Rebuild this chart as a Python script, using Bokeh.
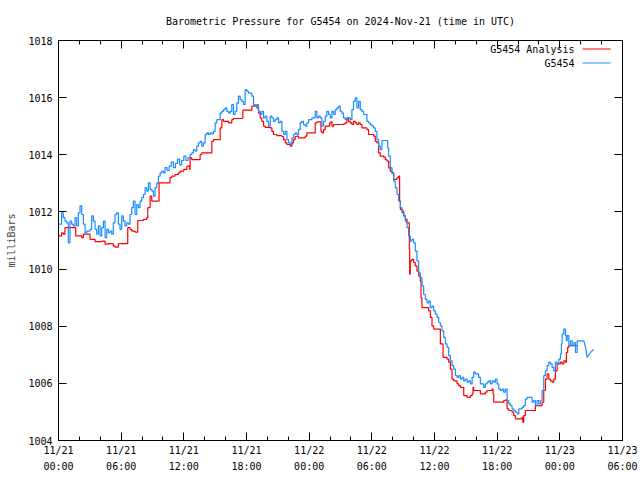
import pandas as pd
from bokeh.plotting import figure
from bokeh.models import (Range1d, DatetimeTickFormatter, FixedTicker, DatetimeAxis, LinearAxis,
                          CustomJSTickFormatter, Label, Arrow)
from bokeh.embed import file_html
from bokeh.resources import INLINE

# ---------------- data (hours since 2024-11-21 00:00 UTC, pressure in mbar) ----------------
START = "2024-11-21 00:00"

analysis_hours = [
    0.00, 0.30, 0.46, 0.62, 1.65, 2.22, 2.38, 3.02, 3.50, 4.14,
    4.46, 4.78, 5.25, 5.41, 5.73, 6.63, 6.85, 7.01, 7.33, 7.59,
    8.13, 8.45, 8.55, 8.77, 8.93, 9.63, 10.68, 10.84, 11.16, 11.48,
    11.64, 12.00, 12.30, 12.55, 12.60, 12.76, 13.56, 13.72, 14.68, 14.84,
    15.48, 15.64, 15.80, 16.28, 16.59, 16.75, 17.65, 18.51, 18.83, 18.99,
    19.15, 19.31, 19.47, 19.63, 19.79, 20.27, 20.43, 20.59, 20.91, 21.39,
    21.55, 21.71, 21.87, 22.19, 22.35, 22.50, 22.66, 22.82, 22.98, 23.62,
    23.78, 24.58, 24.74, 25.13, 25.22, 25.38, 25.54, 25.96, 26.08, 26.18,
    26.34, 27.29, 27.45, 27.61, 27.77, 27.93, 28.09, 28.25, 28.41, 28.57,
    28.73, 28.89, 29.05, 29.53, 29.69, 30.17, 30.33, 30.49, 30.65, 30.81,
    31.13, 31.29, 31.45, 31.61, 31.77, 31.93, 32.09, 32.41, 32.57, 32.66,
    32.73, 32.89, 33.05, 33.21, 33.37, 33.59, 33.62, 33.68, 33.84, 34.00,
    34.16, 34.32, 34.48, 34.64, 34.71, 34.80, 35.28, 35.44, 35.60, 35.76,
    35.92, 36.24, 36.56, 36.72, 36.82, 37.20, 37.36, 37.52, 37.68, 37.84,
    38.16, 38.32, 38.48, 38.80, 39.12, 39.44, 39.60, 39.69, 39.75, 40.39,
    40.87, 41.03, 41.51, 41.61, 41.67, 42.63, 42.79, 42.95, 43.11, 43.43,
    43.59, 43.75, 44.38, 44.45, 44.54, 44.70, 45.66, 46.30, 46.46, 46.62,
    46.78, 46.94, 47.10, 47.26, 47.42, 47.58, 47.74, 48.06, 48.22, 48.38,
    48.54, 48.63, 48.75, 48.86, 49.66,
]
analysis_mbar = [
    1011.16, 1011.27, 1011.22, 1011.45, 1011.16, 1011.10, 1011.22, 1011.04, 1010.96, 1010.98,
    1010.87, 1010.89, 1010.81, 1010.77, 1010.89, 1011.45, 1011.39, 1011.33, 1011.29, 1011.70,
    1011.74, 1011.80, 1012.15, 1012.55, 1012.38, 1013.02, 1013.20, 1013.25, 1013.31, 1013.37,
    1013.43, 1013.49, 1013.60, 1013.49, 1013.89, 1013.83, 1014.01, 1014.07, 1014.47, 1014.53,
    1014.94, 1015.23, 1015.17, 1015.12, 1015.23, 1015.27, 1015.56, 1015.70, 1015.73, 1015.64,
    1015.46, 1015.29, 1015.17, 1015.00, 1014.96, 1014.94, 1014.82, 1014.71, 1014.67, 1014.64,
    1014.53, 1014.42, 1014.36, 1014.30, 1014.42, 1014.53, 1014.64, 1014.65, 1014.59, 1014.65,
    1014.77, 1015.12, 1015.15, 1014.82, 1014.77, 1014.88, 1015.00, 1015.12, 1015.15, 1015.00,
    1015.06, 1015.08, 1015.12, 1015.29, 1015.17, 1015.12, 1015.06, 1015.17, 1015.12, 1015.06,
    1015.12, 1015.06, 1014.94, 1014.88, 1014.71, 1014.65, 1014.47, 1014.42, 1014.07, 1013.95,
    1013.92, 1013.83, 1013.78, 1013.54, 1013.43, 1013.37, 1013.14, 1013.20, 1013.25, 1012.38,
    1012.09, 1012.03, 1011.86, 1011.74, 1011.62, 1010.70, 1009.82, 1010.29, 1010.34, 1010.23,
    1010.11, 1009.93, 1009.76, 1009.58, 1008.99, 1008.65, 1008.65, 1008.54, 1008.31, 1008.01,
    1007.90, 1007.90, 1007.38, 1007.38, 1006.91, 1006.85, 1006.74, 1006.50, 1006.15, 1006.09,
    1005.98, 1005.92, 1005.86, 1005.57, 1005.51, 1005.57, 1005.63, 1005.86, 1005.75, 1005.63,
    1005.69, 1005.75, 1005.80, 1005.63, 1005.34, 1005.40, 1005.42, 1005.11, 1005.05, 1004.99,
    1004.87, 1004.76, 1004.81, 1004.64, 1004.87, 1005.05, 1005.22, 1005.34, 1005.75, 1006.15,
    1006.33, 1006.15, 1006.09, 1006.04, 1006.15, 1006.44, 1006.68, 1006.74, 1006.68, 1006.79,
    1006.74, 1007.08, 1007.26, 1007.32, 1007.32,
]

station_hours = [
    0.00, 0.30, 0.46, 0.62, 0.78, 0.94, 1.10, 1.26, 1.42, 1.58,
    1.74, 1.90, 2.06, 2.22, 2.38, 2.54, 2.70, 2.86, 3.02, 3.18,
    3.34, 3.50, 3.66, 3.82, 3.98, 4.14, 4.30, 4.46, 4.62, 4.78,
    4.94, 5.10, 5.25, 5.41, 5.57, 5.73, 5.89, 6.05, 6.21, 6.37,
    6.53, 6.69, 6.85, 7.01, 7.17, 7.33, 7.49, 7.65, 7.81, 7.97,
    8.13, 8.29, 8.45, 8.61, 8.77, 8.93, 9.09, 9.25, 9.41, 9.57,
    9.73, 9.89, 10.05, 10.20, 10.40, 10.60, 10.80, 11.00, 11.20, 11.40,
    11.60, 11.80, 12.00, 12.20, 12.40, 12.60, 12.76, 12.92, 13.08, 13.24,
    13.40, 13.56, 13.72, 13.88, 14.04, 14.20, 14.36, 14.52, 14.68, 14.84,
    15.00, 15.16, 15.32, 15.48, 15.64, 15.80, 15.96, 16.12, 16.28, 16.44,
    16.59, 16.75, 16.91, 17.07, 17.23, 17.39, 17.55, 17.71, 17.87, 18.03,
    18.19, 18.35, 18.51, 18.67, 18.83, 18.99, 19.15, 19.31, 19.47, 19.63,
    19.79, 19.95, 20.11, 20.27, 20.43, 20.59, 20.75, 20.91, 21.07, 21.23,
    21.39, 21.55, 21.71, 21.87, 22.03, 22.19, 22.35, 22.50, 22.66, 22.82,
    22.98, 23.14, 23.30, 23.46, 23.62, 23.78, 23.94, 24.10, 24.26, 24.42,
    24.58, 24.74, 24.90, 25.06, 25.22, 25.38, 25.54, 25.70, 25.86, 26.02,
    26.18, 26.34, 26.50, 26.66, 26.82, 26.98, 27.13, 27.29, 27.45, 27.61,
    27.77, 27.93, 28.09, 28.25, 28.41, 28.57, 28.73, 28.89, 29.05, 29.21,
    29.37, 29.53, 29.69, 29.85, 30.01, 30.17, 30.33, 30.49, 30.65, 30.81,
    30.97, 31.45, 31.52, 31.61, 31.77, 31.93, 32.09, 32.25, 32.41, 32.57,
    32.73, 32.89, 33.05, 33.21, 33.37, 33.52, 33.68, 33.84, 34.00, 34.16,
    34.32, 34.48, 34.64, 34.80, 34.96, 35.12, 35.28, 35.44, 35.60, 35.76,
    35.92, 36.08, 36.24, 36.40, 36.56, 36.72, 36.88, 37.04, 37.20, 37.36,
    37.52, 37.68, 37.84, 38.00, 38.16, 38.32, 38.48, 38.64, 38.80, 38.96,
    39.12, 39.28, 39.44, 39.60, 39.75, 39.91, 40.07, 40.23, 40.39, 40.55,
    40.71, 40.87, 41.03, 41.19, 41.35, 41.51, 41.67, 41.83, 41.99, 42.15,
    42.31, 42.47, 42.63, 42.79, 42.95, 43.11, 43.27, 43.43, 43.59, 43.75,
    43.91, 44.07, 44.22, 44.38, 44.54, 44.70, 44.86, 45.18, 45.34, 45.50,
    45.66, 45.82, 45.98, 46.14, 46.30, 46.46, 46.62, 46.78, 46.94, 47.10,
    47.26, 47.42, 47.58, 47.74, 47.90, 48.06, 48.15, 48.22, 48.38, 48.54,
    48.63, 48.70, 48.86, 49.02, 49.18, 49.34, 49.50, 49.66, 50.30, 50.46,
    50.62, 50.93, 51.25,
]
station_mbar = [
    1011.57, 1011.97, 1011.80, 1011.68, 1011.62, 1010.92, 1011.68, 1011.57, 1011.51, 1011.80,
    1011.51, 1011.97, 1012.21, 1011.91, 1011.57, 1011.27, 1011.33, 1011.33, 1011.39, 1011.86,
    1011.68, 1011.39, 1011.22, 1011.51, 1011.16, 1011.45, 1011.68, 1011.10, 1011.39, 1011.27,
    1011.33, 1011.22, 1011.62, 1011.91, 1011.97, 1011.57, 1011.39, 1011.86, 1011.68, 1011.51,
    1011.62, 1011.57, 1011.91, 1012.15, 1012.38, 1011.91, 1012.26, 1012.15, 1012.38, 1012.50,
    1012.61, 1012.85, 1012.73, 1013.02, 1012.79, 1012.73, 1012.55, 1012.85, 1013.02, 1013.25,
    1013.37, 1013.43, 1013.37, 1013.55, 1013.45, 1013.60, 1013.75, 1013.55, 1013.70, 1013.85,
    1013.65, 1013.80, 1013.95, 1013.80, 1013.90, 1014.01, 1014.07, 1014.18, 1014.13, 1014.30,
    1014.42, 1014.47, 1014.30, 1014.42, 1014.71, 1014.77, 1014.71, 1014.77, 1014.73, 1014.82,
    1015.12, 1015.23, 1015.23, 1015.46, 1015.52, 1015.58, 1015.64, 1015.52, 1015.46, 1015.52,
    1015.76, 1015.41, 1015.52, 1015.81, 1016.05, 1015.93, 1015.87, 1015.76, 1016.28, 1016.22,
    1016.16, 1016.16, 1016.05, 1015.76, 1015.70, 1015.76, 1015.52, 1015.41, 1015.52, 1015.29,
    1015.35, 1015.17, 1015.00, 1015.35, 1015.29, 1015.17, 1015.23, 1015.29, 1015.12, 1015.17,
    1014.82, 1014.71, 1014.82, 1014.53, 1014.42, 1014.36, 1014.59, 1014.71, 1014.77, 1014.71,
    1014.88, 1015.12, 1015.17, 1015.06, 1015.00, 1015.12, 1015.23, 1015.23, 1015.29, 1015.29,
    1015.52, 1015.29, 1015.35, 1015.29, 1015.00, 1015.17, 1015.35, 1015.52, 1015.41, 1015.29,
    1015.52, 1015.41, 1015.58, 1015.64, 1015.70, 1015.52, 1015.46, 1015.29, 1015.23, 1015.29,
    1015.29, 1015.23, 1015.58, 1015.87, 1015.99, 1015.64, 1015.87, 1015.58, 1015.52, 1015.41,
    1015.41, 1015.17, 1015.12, 1015.06, 1015.00, 1014.94, 1014.82, 1014.53, 1014.30, 1014.18,
    1014.50, 1014.50, 1014.24, 1013.95, 1013.55, 1013.35, 1013.08, 1012.85, 1012.61, 1012.38,
    1012.15, 1011.97, 1011.86, 1011.68, 1011.45, 1011.16, 1010.98, 1011.04, 1010.92, 1010.63,
    1010.29, 1009.87, 1009.70, 1009.41, 1009.11, 1008.94, 1008.82, 1008.88, 1008.65, 1008.70,
    1008.54, 1008.42, 1008.31, 1008.13, 1008.01, 1007.84, 1007.61, 1007.38, 1007.26, 1006.97,
    1006.79, 1006.62, 1006.50, 1006.27, 1006.21, 1006.27, 1006.15, 1006.21, 1006.09, 1006.15,
    1006.04, 1006.09, 1005.98, 1006.21, 1006.39, 1006.33, 1006.33, 1006.21, 1005.98, 1005.98,
    1005.86, 1005.98, 1006.04, 1006.09, 1005.98, 1006.09, 1006.04, 1006.15, 1005.98, 1005.80,
    1005.75, 1005.80, 1005.69, 1005.80, 1005.40, 1005.28, 1005.22, 1005.11, 1005.05, 1004.99,
    1004.93, 1005.11, 1005.11, 1005.16, 1005.22, 1005.45, 1005.51, 1005.51, 1005.34, 1005.40,
    1005.22, 1005.40, 1005.28, 1005.40, 1005.75, 1006.27, 1006.44, 1006.62, 1006.74, 1006.68,
    1006.56, 1006.44, 1006.74, 1006.68, 1006.85, 1007.03, 1007.38, 1007.72, 1007.90, 1007.67,
    1007.49, 1007.67, 1007.32, 1007.49, 1007.32, 1007.43, 1007.08, 1007.49, 1007.49, 1007.26,
    1006.91, 1007.08, 1007.20,
]
# the last few station reports are sparse and are joined by straight segments
station_sparse_from_hour = 50.30

y_ticks = [1004, 1006, 1008, 1010, 1012, 1014, 1016, 1018]
x_tick_hours = [0, 6, 12, 18, 24, 30, 36, 42, 48, 54]
x_minor_hours = list(range(0, 55, 2))

series_names = ["G5454 Analysis", "G5454"]
series_colors = ["#ff0000", "#1a8cff"]
TITLE = "Barometric Pressure for G5454 on 2024-Nov-21 (time in UTC)"
Y_LABEL = "milliBars"
FONT = "DejaVu Sans Mono"

# ---------------- build ----------------
start = pd.Timestamp(START)


def to_time(hours):
    return start + pd.to_timedelta(pd.Series(hours, dtype=float), unit="h")


def to_ms(hours):
    return [(start + pd.Timedelta(hours=h)).timestamp() * 1000.0 for h in hours]


ana_t = to_time(analysis_hours)
split = station_hours.index(station_sparse_from_hour)
sta_t_dense = to_time(station_hours[:split + 1])
sta_t_sparse = to_time(station_hours[split:])

p = figure(width=640, height=480, x_axis_type="datetime", output_backend="svg",
           toolbar_location=None,
           x_range=Range1d(start, start + pd.Timedelta(hours=54)),
           y_range=Range1d(1004, 1018),
           min_border_left=58, min_border_right=18, min_border_top=40, min_border_bottom=40)

p.grid.visible = False
p.outline_line_color = "black"
p.outline_line_width = 1
p.outline_line_alpha = 1.0

p.title.text = TITLE
p.title.align = "center"
p.title.text_font = FONT
p.title.text_font_size = "10px"
p.title.text_font_style = "normal"
p.title.text_color = "black"
p.title.standoff = 27

xticker = FixedTicker(ticks=to_ms(x_tick_hours), minor_ticks=to_ms(x_minor_hours))
fmt = "%m/%d\n%H:%M"
xfmt = DatetimeTickFormatter(hours=fmt, hourmin=fmt, days=fmt, minutes=fmt, minsec=fmt,
                             seconds=fmt, months=fmt, years=fmt)
yticker = FixedTicker(ticks=y_ticks, minor_ticks=[])

for ax in p.xaxis:
    ax.ticker = xticker
    ax.formatter = xfmt
for ax in p.yaxis:
    ax.ticker = yticker

for ax in list(p.xaxis) + list(p.yaxis):
    ax.major_tick_in = 8
    ax.major_tick_out = 0
    ax.minor_tick_in = 4
    ax.minor_tick_out = 0
    ax.major_label_text_font = FONT
    ax.major_label_text_font_size = "10px"
    ax.major_label_text_color = "black"
    ax.axis_line_color = "black"

p.xaxis.major_label_standoff = 4
p.xaxis.major_label_text_line_height = 1.5
p.yaxis.major_label_standoff = 6
p.yaxis.axis_label = Y_LABEL
p.yaxis.axis_label_text_font = FONT
p.yaxis.axis_label_text_font_size = "10px"
p.yaxis.axis_label_text_font_style = "normal"
p.yaxis.axis_label_standoff = 8

blank = CustomJSTickFormatter(code="return ''")
top = DatetimeAxis(ticker=xticker, formatter=blank, major_tick_in=8, major_tick_out=0,
                   minor_tick_in=4, minor_tick_out=0, major_label_standoff=0,
                   major_label_text_font_size="1px")
right = LinearAxis(ticker=yticker, formatter=blank, major_tick_in=8, major_tick_out=0,
                   minor_tick_in=4, minor_tick_out=0, major_label_standoff=0,
                   major_label_text_font_size="1px")
p.add_layout(top, "above")
p.add_layout(right, "right")

p.step(ana_t, analysis_mbar, mode="after", line_color=series_colors[0], line_width=1.2)
p.step(sta_t_dense, station_mbar[:split + 1], mode="after", line_color=series_colors[1],
       line_width=1.2)
p.line(sta_t_sparse, station_mbar[split:], line_color=series_colors[1], line_width=1.2)

# gnuplot-style key: text on the left, sample line on the right (screen units in the frame)
for i, (name, col) in enumerate(zip(series_names, series_colors)):
    ypos = 391.5 - 14 * i
    p.add_layout(Label(x=516, y=ypos, x_units="screen", y_units="screen", text=name,
                       text_align="right", text_baseline="middle", text_font=FONT,
                       text_font_size="10px", text_color="black"))
    p.add_layout(Arrow(end=None, x_start=524, y_start=ypos, x_end=552, y_end=ypos,
                       start_units="screen", end_units="screen",
                       line_color=col, line_width=1))

open("out.html", "w").write(file_html(p, INLINE))
